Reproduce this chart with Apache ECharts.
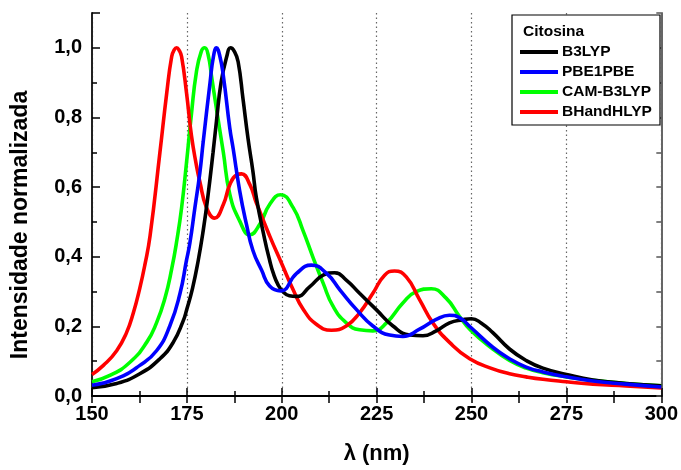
<!DOCTYPE html>
<html>
<head>
<meta charset="utf-8">
<script src="https://cdn.jsdelivr.net/npm/echarts@6/dist/echarts.min.js"></script>
<style>
  html, body { margin: 0; padding: 0; background: #fff; }
  #chart { width: 681px; height: 470px; }
</style>
</head>
<body>
<div id="chart"></div>
<script>
// Absorption spectra of cytosine, normalised intensity vs wavelength (nm)
const xTicks = [150, 175, 200, 225, 250, 275, 300];
const yTicks = [0.0, 0.2, 0.4, 0.6, 0.8, 1.0];

const wlB3LYP  = [150,156.5,162.6,167.9,171.4,174,175,176.5,178,179.3,180.5,181.9,182.8,184,185.5,186.5,187.5,188.5,189.8,191.1,192.4,193.3,195.5,196.8,197.7,199,200.3,202,203.9,207.4,210.9,213.9,217,220.5,224.9,229.3,233.7,237.2,240.7,244.2,247.7,250,252.5,255.6,260,264.4,268.8,275,282,290.7,300];
const intB3LYP = [.024,.036,.064,.107,.154,.215,.25,.31,.39,.475,.57,.70,.79,.9,.975,1.0,.99,.96,.852,.74,.645,.57,.45,.39,.355,.32,.30,.288,.286,.314,.347,.354,.333,.295,.248,.201,.175,.173,.187,.21,.219,.222,.21,.182,.135,.102,.08,.062,.046,.036,.029];

const wlPBE  = [150,156.5,162.6,167,170.5,173.2,174.9,175.8,177.1,178.4,179.3,181.1,182,182.8,183.6,184.6,186.3,187.2,188.9,190.7,192.4,194.7,196.8,199.7,203.9,207.8,211.8,215.3,219.7,224,228.4,231.9,236.3,240.7,244.2,246.8,249.9,255.6,260,264.4,268.8,275,282,290.7,300];
const intPBE = [.031,.05,.088,.13,.201,.295,.39,.44,.54,.64,.73,.9,.975,1.0,.98,.92,.77,.71,.59,.493,.418,.361,.316,.302,.352,.376,.352,.305,.248,.201,.175,.171,.192,.22,.232,.225,.196,.14,.107,.083,.069,.055,.043,.034,.026];

const wlCAM  = [150,154.7,160,164.4,167,169.2,171,172.4,173.6,174.9,176.2,177.5,178.8,179.7,180.6,181.5,182.8,184.6,186.3,188.9,191.6,194.2,196.8,199.7,203,205.6,208.2,210.9,213.5,217,220.5,224,227.6,231.9,235.4,239.4,243.3,246.8,249.7,255.6,260,264.4,268.8,275,282,290.7,300];
const intCAM = [.041,.059,.097,.154,.21,.28,.365,.45,.54,.67,.81,.93,.99,1.0,.98,.918,.824,.70,.58,.503,.463,.493,.55,.578,.541,.475,.399,.324,.258,.21,.19,.187,.21,.267,.3,.308,.281,.229,.19,.135,.102,.08,.067,.055,.045,.036,.029];

const wlBH  = [150,153,156.5,159.1,160.9,162.6,163.9,165.3,167.9,169.7,171,171.7,172.3,173,173.6,174.9,176.2,177.5,178.4,180.2,182.3,184.6,186.3,188.1,189.4,191.6,193.3,196.8,200,203,205.6,209.1,213.1,217,220.5,224,227.1,229.7,232.8,236.3,239.8,244.2,249.5,255.6,260,264.4,268.8,275,282,290.7,300];
const intBH = [.062,.088,.13,.182,.239,.31,.375,.46,.70,.871,.975,.995,1.0,.992,.975,.871,.748,.663,.616,.54,.511,.55,.607,.635,.638,.607,.555,.46,.38,.305,.25,.206,.189,.201,.239,.295,.347,.359,.342,.277,.21,.154,.107,.078,.064,.055,.048,.041,.034,.029,.023];

const seriesNames = ['B3LYP', 'PBE1PBE', 'CAM-B3LYP', 'BHandHLYP'];
const seriesColors = ['#000000', '#0000ff', '#00ff00', '#ff0000'];

const FONT = '"Liberation Sans", Arial, sans-serif';

function pairs(xs, ys) { return xs.map((x, i) => [x, ys[i]]); }

function line(name, color, xs, ys) {
  return {
    name: name,
    type: 'line',
    data: pairs(xs, ys),
    smooth: 0.5,
    showSymbol: false,
    symbol: 'none',
    color: color,
    lineStyle: { color: color, width: 3.6 },
    xAxisIndex: 0,
    yAxisIndex: 0,
    animation: false
  };
}

const yLabel = v => {
  const r = Math.round(v * 10);
  if (r % 2 !== 0 || v > 1.05) return '';
  return yTicks.includes(r / 10) ? (r / 10).toFixed(1).replace('.', ',') : '';
};

const chart = echarts.init(document.getElementById('chart'), null, { renderer: 'canvas' });

chart.setOption({
  backgroundColor: '#ffffff',
  animation: false,
  grid: { left: 92, right: 19, top: 13, bottom: 69, containLabel: false },
  xAxis: [
    {
      type: 'value', position: 'bottom', min: xTicks[0], max: xTicks[xTicks.length - 1], interval: 25,
      name: 'λ (nm)', nameLocation: 'middle', nameGap: 47,
      nameTextStyle: { fontFamily: FONT, fontWeight: 'bold', fontSize: 22, color: '#000' },
      axisLine: { show: true, lineStyle: { color: '#000', width: 2 } },
      axisTick: { show: true, inside: true, length: 8, lineStyle: { color: '#000', width: 1.5 } },
      minorTick: { show: true, splitNumber: 2, length: 5, lineStyle: { color: '#000', width: 1.5 } },
      axisLabel: { margin: 8, fontFamily: FONT, fontWeight: 'bold', fontSize: 20, color: '#000',
                   formatter: v => String(v) },
      splitLine: { show: true, lineStyle: { color: '#666', width: 1.2, type: [1.5, 3] } },
      showMinLine: false, showMaxLine: false
    },
    {
      type: 'value', position: 'top', min: 150, max: 300, interval: 25,
      axisLine: { show: true, lineStyle: { color: '#000', width: 2 } },
      axisTick: { show: true, inside: true, length: 7, lineStyle: { color: '#000', width: 1.5 } },
      minorTick: { show: true, splitNumber: 2, length: 7, lineStyle: { color: '#000', width: 1.5 } },
      axisLabel: { show: false },
      splitLine: { show: false }
    }
  ],
  yAxis: [
    {
      type: 'value', position: 'left', min: 0, max: 1.1, interval: 0.2,
      name: '',
      axisLine: { show: true, lineStyle: { color: '#222', width: 2 } },
      axisTick: { show: true, inside: true, length: 8, lineStyle: { color: '#000', width: 1.5 } },
      axisLabel: { margin: 10, fontFamily: FONT, fontWeight: 'bold', fontSize: 20, color: '#000', formatter: yLabel },
      splitLine: { show: false }
    },
    {
      type: 'value', position: 'left', min: 0, max: 1.1, interval: 0.1,
      axisLine: { show: false },
      axisTick: { show: true, inside: true, length: 5, lineStyle: { color: '#000', width: 1.5 } },
      axisLabel: { show: false },
      splitLine: { show: false }
    },
    {
      type: 'value', position: 'right', min: 0, max: 1.1, interval: 0.1,
      axisLine: { show: true, lineStyle: { color: '#666', width: 2 } },
      axisTick: { show: true, inside: true, length: 5, lineStyle: { color: '#555', width: 1.5 } },
      axisLabel: { show: false },
      splitLine: { show: false }
    }
  ],
  legend: {
    data: seriesNames,
    orient: 'vertical',
    left: 520, top: 44,
    icon: 'rect',
    itemWidth: 38, itemHeight: 4,
    itemGap: 4,
    padding: 0,
    z: 20,
    selectedMode: false,
    textStyle: { fontFamily: FONT, fontWeight: 'bold', fontSize: 15.5, color: '#000', lineHeight: 16, padding: [0, 0, 0, -1] }
  },
  graphic: [
    {
      type: 'rect', z: 15,
      shape: { x: 512, y: 15, width: 148, height: 110 },
      style: { fill: '#fff', stroke: '#000', lineWidth: 1.2 }
    },
    {
      type: 'text', z: 21, x: 523, y: 32,
      style: { text: 'Citosina', fill: '#000', font: 'bold 15.5px "Liberation Sans", Arial, sans-serif',
               textAlign: 'left', textVerticalAlign: 'middle' }
    },
    {
      type: 'text', z: 21, x: 21, y: 225, rotation: Math.PI / 2,
      style: { text: 'Intensidade normalizada', fill: '#000', font: 'bold 23px "Liberation Sans", Arial, sans-serif',
               textAlign: 'center', textVerticalAlign: 'middle' }
    }
  ],
  series: [
    line('CAM-B3LYP', seriesColors[2], wlCAM, intCAM),
    line('BHandHLYP', seriesColors[3], wlBH, intBH),
    line('B3LYP', seriesColors[0], wlB3LYP, intB3LYP),
    line('PBE1PBE', seriesColors[1], wlPBE, intPBE)
  ]
});
</script>
</body>
</html>
